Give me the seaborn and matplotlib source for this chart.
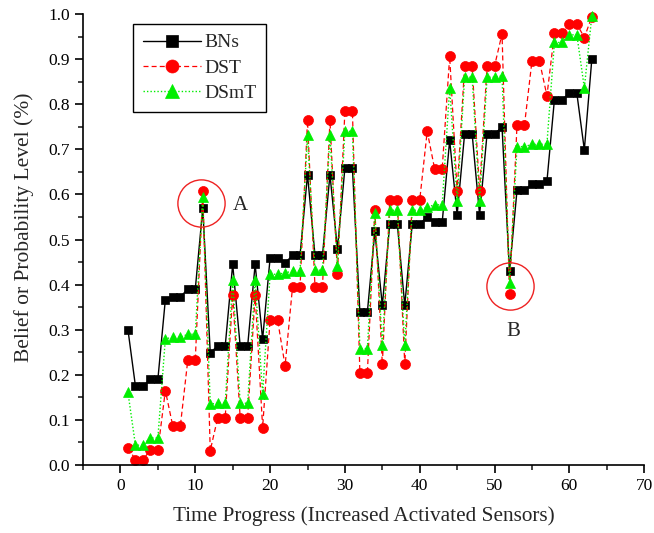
import numpy as np
import pandas as pd
import matplotlib
matplotlib.use("Agg")
import matplotlib.pyplot as plt
import seaborn as sns

t = list(range(1, 64))
bns = [0.30, 0.175, 0.175, 0.19, 0.19, 0.367, 0.373, 0.373, 0.39, 0.39,
       0.569, 0.249, 0.264, 0.264, 0.445, 0.264, 0.264, 0.445, 0.279, 0.459,
       0.459, 0.448, 0.465, 0.465, 0.644, 0.465, 0.465, 0.644, 0.479, 0.659,
       0.659, 0.339, 0.339, 0.518, 0.354, 0.535, 0.535, 0.354, 0.535, 0.535,
       0.55, 0.538, 0.538, 0.72, 0.555, 0.735, 0.735, 0.555, 0.735, 0.735,
       0.749, 0.43, 0.609, 0.609, 0.624, 0.624, 0.629, 0.81, 0.81, 0.824,
       0.824, 0.699, 0.90]
dst = [0.038, 0.012, 0.012, 0.033, 0.033, 0.165, 0.086, 0.086, 0.233, 0.233,
       0.607, 0.032, 0.105, 0.105, 0.378, 0.105, 0.105, 0.378, 0.083, 0.322,
       0.322, 0.22, 0.395, 0.395, 0.764, 0.395, 0.395, 0.764, 0.423, 0.786,
       0.786, 0.204, 0.204, 0.565, 0.223, 0.588, 0.588, 0.223, 0.588, 0.588,
       0.74, 0.656, 0.656, 0.906, 0.608, 0.885, 0.885, 0.608, 0.885, 0.885,
       0.956, 0.38, 0.754, 0.754, 0.896, 0.896, 0.819, 0.957, 0.957, 0.978,
       0.978, 0.948, 0.994]
dsmt = [0.161, 0.044, 0.044, 0.06, 0.06, 0.28, 0.283, 0.283, 0.29, 0.29,
        0.594, 0.135, 0.137, 0.137, 0.41, 0.137, 0.137, 0.41, 0.157, 0.423,
        0.423, 0.426, 0.43, 0.43, 0.732, 0.432, 0.432, 0.732, 0.441, 0.74,
        0.74, 0.258, 0.258, 0.559, 0.265, 0.565, 0.565, 0.265, 0.565, 0.565,
        0.572, 0.577, 0.577, 0.837, 0.585, 0.86, 0.86, 0.585, 0.86, 0.86,
        0.863, 0.403, 0.706, 0.706, 0.711, 0.711, 0.712, 0.937, 0.937, 0.954,
        0.954, 0.836, 0.996]
series_names = ["BNs", "DST", "DSmT"]
x_ticks = [0, 10, 20, 30, 40, 50, 60, 70]
y_ticks = [0.0, 0.1, 0.2, 0.3, 0.4, 0.5, 0.6, 0.7, 0.8, 0.9, 1.0]
ann_labels = ["A", "B"]
ann_circle = [(10.8, 0.582), (52.1, 0.397)]
ann_text = [(16.0, 0.576), (52.5, 0.295)]

sns.set_style("ticks")
plt.rcParams["font.family"] = ["Liberation Serif", "DejaVu Serif"]
plt.rcParams["mathtext.fontset"] = "stix"

fig = plt.figure(figsize=(6.54, 5.33), dpi=100)
ax = fig.add_axes([0.127, 0.1276, 0.858, 0.846])

df = pd.DataFrame({"t": t, "BNs": bns, "DST": dst, "DSmT": dsmt})

styles = {
    "BNs": dict(color="black", marker="s", linestyle="-", markersize=6.2, lw=1.0),
    "DST": dict(color="#ff0000", marker="o", linestyle=(0, (4, 2.5)), markersize=7.2, lw=0.9),
    "DSmT": dict(color="#00ee00", marker="^", linestyle=(0, (1, 1.5)), markersize=7.8, lw=1.0),
}
for name in series_names:
    st = styles[name]
    sns.lineplot(data=df, x="t", y=name, ax=ax, label=name,
                 color=st["color"], marker=st["marker"], linestyle=st["linestyle"],
                 markersize=st["markersize"], linewidth=st["lw"],
                 markeredgecolor=st["color"], markeredgewidth=0.5,
                 clip_on=False, errorbar=None)

for (cx, cy) in ann_circle:
    ax.plot([cx], [cy], marker="o", markersize=34, markerfacecolor="none",
            markeredgecolor="#ee2222", markeredgewidth=1.0, linestyle="none", zorder=5)
for lab, (tx, ty) in zip(ann_labels, ann_text):
    ax.text(tx, ty, lab, fontsize=15, ha="center", va="center")

ax.set_xlim(-5, 70)
ax.set_ylim(0, 1.0)
ax.set_xticks(x_ticks)
ax.set_xticks([-5, 5, 15, 25, 35, 45, 55, 65], minor=True)
ax.set_yticks(y_ticks)
ax.set_yticks([0.05, 0.15, 0.25, 0.35, 0.45, 0.55, 0.65, 0.75, 0.85, 0.95], minor=True)
ax.set_yticklabels([f"{v:.1f}" for v in y_ticks])
ax.tick_params(axis="both", which="major", direction="out", length=6, width=1.2,
               labelsize=12.5, colors="black")
ax.tick_params(axis="both", which="minor", direction="out", length=3.5, width=1.2)
for s in ["top", "right"]:
    ax.spines[s].set_visible(False)
for s in ["left", "bottom"]:
    ax.spines[s].set_linewidth(1.2)
    ax.spines[s].set_color("black")

ax.set_xlabel("Time Progress (Increased Activated Sensors)", fontsize=15.3, labelpad=9)
ax.set_ylabel("Belief or Probability Level (%)", fontsize=15.5)
ax.yaxis.set_label_coords(-0.088, 0.527)

leg = ax.legend(loc="upper left", bbox_to_anchor=(0.089, 0.978), borderaxespad=0,
                fontsize=14, frameon=True, fancybox=False, framealpha=1,
                edgecolor="black", handlelength=3.0, borderpad=0.5,
                labelspacing=0.4, handletextpad=0.15, markerscale=1.3)
leg.get_frame().set_linewidth(1.0)

fig.savefig("out.png", dpi=100)
